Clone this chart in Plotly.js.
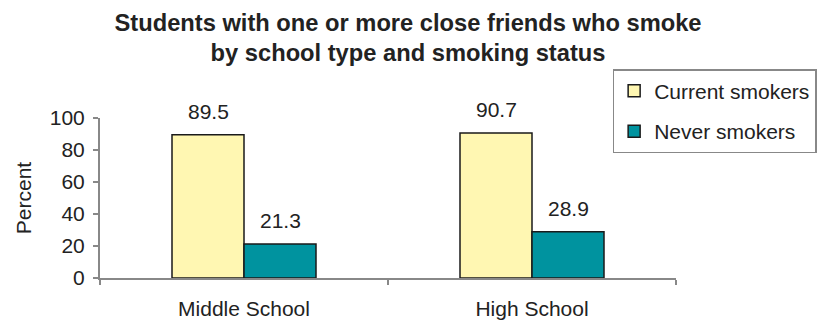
<!DOCTYPE html>
<html>
<head>
<meta charset="utf-8">
<script src="https://cdn.plot.ly/plotly-3.0.1.min.js"></script>
<style>html,body{margin:0;padding:0;background:#fff;}#chart{width:821px;height:323px;}</style>
</head>
<body>
<div id="chart"></div>
<script>
var categories = ["Middle School", "High School"];
var currentSmokers = [89.5, 90.7];
var neverSmokers = [21.3, 28.9];
var seriesNames = ["Current smokers", "Never smokers"];
var yTicks = [0, 20, 40, 60, 80, 100];

var font = "Arial, 'Liberation Sans', sans-serif";

var traces = [
  {type: "bar", name: seriesNames[0], x: categories, y: currentSmokers,
   marker: {color: "#FFF7B2", line: {color: "#1a1a1a", width: 1.5}}, legendgroup: "a", hoverinfo: "none"},
  {type: "bar", name: seriesNames[1], x: categories, y: neverSmokers,
   marker: {color: "#00939F", line: {color: "#1a1a1a", width: 1.5}}, legendgroup: "b", hoverinfo: "none"}
];

var annotations = [];
[currentSmokers, neverSmokers].forEach(function(arr, si) {
  arr.forEach(function(v, i) {
    annotations.push({x: categories[i], y: v, xref: "x", yref: "y", text: v.toFixed(1),
      showarrow: false, yanchor: "middle", yshift: 23, xshift: si === 0 ? -36 : 36,
      font: {family: font, size: 21, color: "#222"}});
  });
});

var layout = {
  width: 821, height: 323,
  margin: {l: 100, r: 145, t: 118, b: 45, autoexpand: false},
  paper_bgcolor: "#fff", plot_bgcolor: "#fff",
  font: {family: font, color: "#222"},
  title: {text: "<b>Students with one or more close friends who smoke<br>by school type and smoking status</b>",
          x: 0.497, xanchor: "center", yref: "container", y: 0.905, yanchor: "bottom",
          font: {family: font, size: 23.7, color: "#222"}},
  barmode: "group", bargap: 0.5, bargroupgap: 0,
  xaxis: {type: "category", showline: true, linecolor: "#888", linewidth: 2,
          ticks: "outside", tickson: "boundaries", ticklen: 5, tickcolor: "#888", tickwidth: 2,
          ticklabelstandoff: 11,
          tickfont: {family: font, size: 21, color: "#222"}, showgrid: false, zeroline: false},
  yaxis: {range: [0, 100], tickvals: yTicks, showline: true, linecolor: "#888", linewidth: 2,
          ticks: "outside", ticklen: 5, tickcolor: "#888", tickwidth: 2, ticklabelstandoff: 4,
          tickfont: {family: font, size: 21, color: "#222"}, showgrid: false, zeroline: false,
          title: {text: "Percent", font: {family: font, size: 21, color: "#222"}, standoff: 12}},
  showlegend: true,
  legend: {x: 0.89, xanchor: "left", y: 1.305, yanchor: "top",
           bordercolor: "#888", borderwidth: 1.5, bgcolor: "#fff",
           font: {family: font, size: 21, color: "#222"},
           traceorder: "grouped", tracegroupgap: 10, itemwidth: 30},
  annotations: annotations
};

Plotly.newPlot("chart", traces, layout, {displayModeBar: false, staticPlot: true});
</script>
</body>
</html>
